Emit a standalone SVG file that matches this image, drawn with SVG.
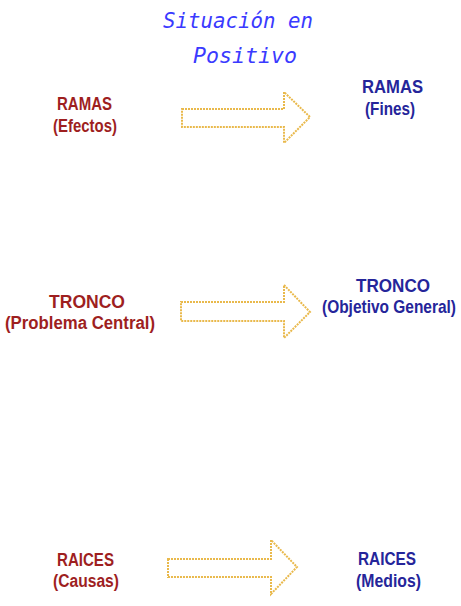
<svg xmlns="http://www.w3.org/2000/svg" width="461" height="606" viewBox="0 0 461 606">
<style>
.title{font-family:"DejaVu Sans Mono",monospace;font-style:italic;font-size:21px;fill:#3a3aff}
.lbl{font-family:"Liberation Sans",Arial,sans-serif;font-weight:bold;font-size:18px;text-anchor:middle}
.red{fill:#9e1f1f}
.blue{fill:#25259a}
.arrow{fill:#ffffff;stroke:#e9b94c;stroke-width:2;stroke-dasharray:2 1}
</style>
<rect width="461" height="606" fill="#ffffff"/>
<g id="title">
<text class="title" x="163" y="28" textLength="150" lengthAdjust="spacingAndGlyphs">Situación en</text>
<text class="title" x="193" y="63" textLength="104" lengthAdjust="spacingAndGlyphs">Positivo</text>
</g>
<g id="ramas-efectos">
<text class="lbl red" x="84.5" y="110" textLength="55" lengthAdjust="spacingAndGlyphs">RAMAS</text>
<text class="lbl red" x="85" y="132" textLength="64" lengthAdjust="spacingAndGlyphs">(Efectos)</text>
</g>
<g id="ramas-fines">
<text class="lbl blue" x="392.5" y="93" textLength="61" lengthAdjust="spacingAndGlyphs">RAMAS</text>
<text class="lbl blue" x="390" y="115" textLength="50" lengthAdjust="spacingAndGlyphs">(Fines)</text>
</g>
<g id="tronco-problema">
<text class="lbl red" x="87" y="308" textLength="76" lengthAdjust="spacingAndGlyphs">TRONCO</text>
<text class="lbl red" x="80" y="329" textLength="150" lengthAdjust="spacingAndGlyphs">(Problema Central)</text>
</g>
<g id="tronco-objetivo">
<text class="lbl blue" x="393" y="292" textLength="74" lengthAdjust="spacingAndGlyphs">TRONCO</text>
<text class="lbl blue" transform="translate(389,313) scale(0.86,1)" x="0" y="0">(Objetivo General)</text>
</g>
<g id="raices-causas">
<text class="lbl red" x="85.5" y="566" textLength="57" lengthAdjust="spacingAndGlyphs">RAICES</text>
<text class="lbl red" x="86" y="587" textLength="66" lengthAdjust="spacingAndGlyphs">(Causas)</text>
</g>
<g id="raices-medios">
<text class="lbl blue" x="387" y="565" textLength="58" lengthAdjust="spacingAndGlyphs">RAICES</text>
<text class="lbl blue" x="388.5" y="587" textLength="65" lengthAdjust="spacingAndGlyphs">(Medios)</text>
</g>
<g id="connectors">
<polygon class="arrow" points="182,109 284,109 284,92 310,117 284,143 284,127 182,127"/>
<polygon class="arrow" points="181,302 284,302 284,285 310,312 284,338 284,321 181,321"/>
<polygon class="arrow" points="168,559 271,559 271,540 297,567 271,594 271,577 168,577"/>
</g>
</svg>
